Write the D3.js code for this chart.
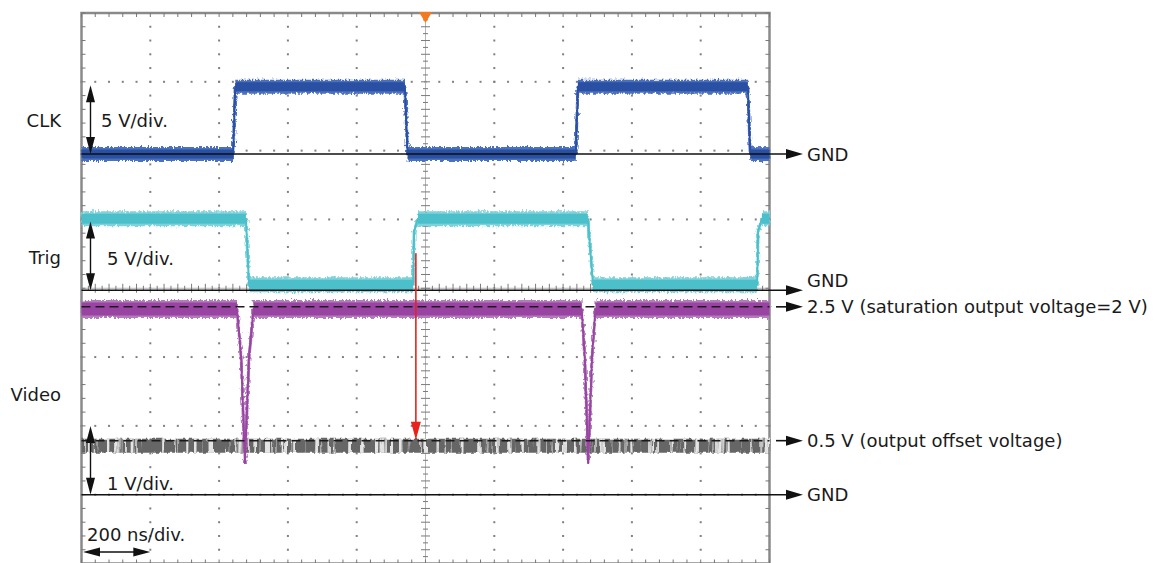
<!DOCTYPE html>
<html>
<head>
<meta charset="utf-8">
<script src="https://cdn.jsdelivr.net/npm/d3@7"></script>
<style>
  body { margin: 0; background: #fff; }
  svg { display: block; font-family: 'DejaVu Sans', sans-serif; }
</style>
</head>
<body>
<svg id="scope" width="1163" height="563"></svg>
<script>
// horizontal: ns, 200 ns/div ; vertical: divisions counted from the bottom
const timeDivs = [0, 200, 400, 600, 800, 1000, 1200, 1400, 1600, 1800, 2000]
const voltDivs = [0, 1, 2, 3, 4, 5, 6, 7, 8]

const channelNames = ['CLK', 'Trig', 'Video']
const channelScaleLabels = ['5 V/div.', '5 V/div.', '1 V/div.']
const channelVoltsPerDiv = [5, 5, 1]
const channelGndDiv = [5.95, 3.97, 1.0]
const channelLabelVolts = [2.45, 2.35, 1.45]

// CLK trace (V)
const clkTime = [0, 441, 447, 940, 948, 1437, 1443, 1937, 1944, 2000]
const clkVolts = [0, 0, 4.9, 4.9, 0, 0, 4.9, 4.9, 0, 0]

// Trig trace (V)
const trigTime = [0, 478, 487, 964, 967, 978, 1472, 1487, 1964, 1967, 1978, 2000]
const trigVolts = [5.2, 5.2, 0.4, 0.4, 4.3, 5.2, 5.2, 0.4, 0.4, 4.3, 5.2, 5.2]

// Video output (V)
const videoTime = [0, 452, 464, 475, 487, 500, 1454, 1463, 1473, 1484, 1494, 2000]
const videoVolts = [2.7, 2.7, 2.0, 0.46, 2.0, 2.7, 2.7, 2.0, 0.46, 2.0, 2.7, 2.7]

// Video output with no light (offset level, V)
const offsetTime = [0, 2000]
const offsetVolts = [0.71, 0.71]

const refVolts = [2.73, 0.785]
const refLabels = ['2.5 V (saturation output voltage=2 V)', '0.5 V (output offset voltage)']
const gndLabel = 'GND'
const timeScaleLabel = '200 ns/div.'
const triggerTime = 1000
const cursorTime = 972
const cursorFromVolts = 2.7 // on Trig
const cursorToVolts = 0.8 // on Video

const svg = d3.select('#scope')
const x = d3.scaleLinear().domain([0, 2000]).range([81.5, 769.5])
const y = d3.scaleLinear().domain([0, 8]).range([563.5, 13])
const chY = (i, v) => y(channelGndDiv[i] + v / channelVoltsPerDiv[i])
const minorT = d3.range(0, 2000.1, 40)
const minorV = d3.range(0, 8.01, 0.2)

// filters for the noisy traces
const defs = svg.append('defs')
const region = (f) => f.attr('filterUnits', 'userSpaceOnUse').attr('x', 0).attr('y', 0).attr('width', 1163).attr('height', 563)

const fuzz = region(defs.append('filter').attr('id', 'fuzz'))
fuzz.append('feTurbulence').attr('type', 'fractalNoise').attr('baseFrequency', '0.55 0.25')
  .attr('numOctaves', 2).attr('seed', 4).attr('result', 'n')
fuzz.append('feDisplacementMap').attr('in', 'SourceGraphic').attr('in2', 'n').attr('scale', 6)
  .attr('xChannelSelector', 'R').attr('yChannelSelector', 'G')

const streak = region(defs.append('filter').attr('id', 'streak'))
streak.append('feTurbulence').attr('type', 'fractalNoise').attr('baseFrequency', '0.35 0.01')
  .attr('numOctaves', 1).attr('seed', 9).attr('result', 'n')
streak.append('feColorMatrix').attr('in', 'n').attr('type', 'matrix')
  .attr('values', '0 0 0 0 0.78  0 0 0 0 0.78  0 0 0 0 0.78  8 0 0 0 -4.3').attr('result', 'light')
streak.append('feComposite').attr('in', 'light').attr('in2', 'SourceGraphic').attr('operator', 'in').attr('result', 'lightIn')
const merge = streak.append('feMerge').attr('result', 'm')
merge.append('feMergeNode').attr('in', 'SourceGraphic')
merge.append('feMergeNode').attr('in', 'lightIn')
streak.append('feTurbulence').attr('type', 'fractalNoise').attr('baseFrequency', '0.3 0.06')
  .attr('numOctaves', 1).attr('seed', 2).attr('result', 'n2')
streak.append('feDisplacementMap').attr('in', 'm').attr('in2', 'n2').attr('scale', 5)
  .attr('xChannelSelector', 'R').attr('yChannelSelector', 'G')

// graticule
const grid = svg.append('g')
const innerT = timeDivs.slice(1, -1).filter((t) => t !== 1000)
const innerV = voltDivs.slice(1, -1).filter((v) => v !== 4)

innerT.forEach((t) => {
  grid.selectAll(null).data(minorV).enter().append('rect')
    .attr('x', x(t) - 1).attr('y', (v) => y(v) - 1).attr('width', 2).attr('height', 2).attr('fill', '#808080')
})
innerV.forEach((v) => {
  grid.selectAll(null).data(minorT).enter().append('rect')
    .attr('x', (t) => x(t) - 1).attr('y', y(v) - 1).attr('width', 2).attr('height', 2).attr('fill', '#808080')
})

// center cross with ticks
grid.append('line').attr('x1', x(1000)).attr('x2', x(1000)).attr('y1', y(8)).attr('y2', y(0))
  .attr('stroke', '#b5b5b5').attr('stroke-width', 1)
grid.append('line').attr('x1', x(0)).attr('x2', x(2000)).attr('y1', y(4)).attr('y2', y(4))
  .attr('stroke', '#b5b5b5').attr('stroke-width', 1)
const fineV = d3.range(0, 8.01, 0.1)
const fineT = d3.range(0, 2000.1, 20)
grid.selectAll(null).data(fineV).enter().append('line')
  .attr('x1', (v, k) => x(1000) - (k % 2 ? 2.5 : 4.5)).attr('x2', (v, k) => x(1000) + (k % 2 ? 2.5 : 4.5))
  .attr('y1', (v) => y(v)).attr('y2', (v) => y(v)).attr('stroke', '#7a7a7a').attr('stroke-width', 1)
grid.selectAll(null).data(fineT).enter().append('line')
  .attr('y1', (t, k) => y(4) - (k % 2 ? 2.5 : 4.5)).attr('y2', (t, k) => y(4) + (k % 2 ? 2.5 : 4.5))
  .attr('x1', (t) => x(t)).attr('x2', (t) => x(t)).attr('stroke', '#7a7a7a').attr('stroke-width', 1)

// border with inward ticks
grid.append('rect').attr('x', x(0)).attr('y', y(8)).attr('width', x(2000) - x(0)).attr('height', y(0) - y(8))
  .attr('fill', 'none').attr('stroke', '#8a8a8a').attr('stroke-width', 2.5)
grid.selectAll(null).data(minorT).enter().append('line')
  .attr('x1', (t) => x(t)).attr('x2', (t) => x(t)).attr('y1', y(8)).attr('y2', y(8) + 4)
  .attr('stroke', '#777').attr('stroke-width', 1)
grid.selectAll(null).data(minorT).enter().append('line')
  .attr('x1', (t) => x(t)).attr('x2', (t) => x(t)).attr('y1', y(0)).attr('y2', y(0) - 4)
  .attr('stroke', '#777').attr('stroke-width', 1)
grid.selectAll(null).data(minorV).enter().append('line')
  .attr('x1', x(0)).attr('x2', x(0) + 4).attr('y1', (v) => y(v)).attr('y2', (v) => y(v))
  .attr('stroke', '#777').attr('stroke-width', 1)
grid.selectAll(null).data(minorV).enter().append('line')
  .attr('x1', x(2000)).attr('x2', x(2000) - 4).attr('y1', (v) => y(v)).attr('y2', (v) => y(v))
  .attr('stroke', '#777').attr('stroke-width', 1)

// split a trace into flat (noisy band) parts and transitions
const segments = (ts, vs) => {
  const flats = []
  const edges = []
  for (let k = 1; k < ts.length; k++) {
    const seg = [[ts[k - 1], vs[k - 1]], [ts[k], vs[k]]]
    if (vs[k] === vs[k - 1]) flats.push(seg)
    else edges.push(seg)
  }
  return { flats, edges }
}

const drawTrace = (ts, vs, ch, color, halo, band) => {
  const { flats, edges } = segments(ts, vs)
  const line = d3.line().x((d) => x(d[0])).y((d) => chY(ch, d[1]))
  // fuzzy outer band
  const g = svg.append('g').attr('filter', 'url(#fuzz)')
  g.selectAll(null).data(flats).enter().append('path')
    .attr('d', line).attr('fill', 'none').attr('stroke', halo).attr('stroke-width', band)
  g.selectAll(null).data(edges).enter().append('path')
    .attr('d', line).attr('fill', 'none').attr('stroke', halo).attr('stroke-width', 3)
  // solid core
  const c = svg.append('g')
  c.selectAll(null).data(flats).enter().append('path')
    .attr('d', line).attr('fill', 'none').attr('stroke', color).attr('stroke-width', band - 5)
  c.selectAll(null).data(edges).enter().append('path')
    .attr('d', line).attr('fill', 'none').attr('stroke', color).attr('stroke-width', 2)
    .attr('stroke-linecap', 'round')
}

// offset level trace (grey, streaky)
svg.append('path')
  .datum(offsetTime.map((t, k) => [t, offsetVolts[k]]))
  .attr('d', d3.line().x((d) => x(d[0])).y((d) => chY(2, d[1])))
  .attr('fill', 'none').attr('stroke', '#666').attr('stroke-width', 14)
  .attr('filter', 'url(#streak)')

drawTrace(clkTime, clkVolts, 0, '#2a50a4', '#4c6fbd', 14)
drawTrace(trigTime, trigVolts, 1, '#4bc0cb', '#7fd2da', 15)
drawTrace(videoTime, videoVolts, 2, '#9944a2', '#b27bbb', 18)

// arrow helpers
const head = (g, tx, ty, dir, len = 17, hw = 5) => {
  const [dx, dy] = { r: [-1, 0], l: [1, 0], u: [0, 1], d: [0, -1] }[dir]
  const bx = tx + dx * len
  const by = ty + dy * len
  g.append('path')
    .attr('d', `M${tx},${ty}L${bx - dy * hw},${by - dx * hw}L${bx + dy * hw},${by + dx * hw}Z`)
    .attr('fill', '#111')
}

const ann = svg.append('g')
const rightX = 803
const rightLabels = []

// ground lines
channelNames.forEach((name, i) => {
  const gy = chY(i, 0)
  ann.append('line').attr('x1', x(0)).attr('x2', rightX - 12).attr('y1', gy).attr('y2', gy)
    .attr('stroke', '#111').attr('stroke-width', 1.6)
  head(ann, rightX, gy, 'r')
  rightLabels.push({ y: gy, text: gndLabel })
})

// reference levels on video
refVolts.forEach((v, k) => {
  const ry = chY(2, v)
  ann.append('line').attr('x1', x(0)).attr('x2', x(2000)).attr('y1', ry).attr('y2', ry)
    .attr('stroke', '#1a1a1a').attr('stroke-width', 1.5).attr('stroke-dasharray', '9,5')
  ann.append('line').attr('x1', 776).attr('x2', rightX - 12).attr('y1', ry).attr('y2', ry)
    .attr('stroke', '#111').attr('stroke-width', 1.6)
  head(ann, rightX, ry, 'r')
  rightLabels.push({ y: ry, text: refLabels[k] })
})

// keep right-hand labels apart
rightLabels.sort((a, b) => a.y - b.y)
rightLabels.forEach((d) => (d.ly = d.y))
for (let k = rightLabels.length - 2; k >= 0; k--) {
  const gap = rightLabels[k + 1].ly - rightLabels[k].ly
  if (gap < 26) rightLabels[k].ly = rightLabels[k + 1].ly - 26
}
ann.selectAll(null).data(rightLabels).enter().append('text')
  .attr('x', 807).attr('y', (d) => d.ly).attr('dy', '0.36em')
  .attr('font-size', '18px').attr('fill', '#1a1a1a').text((d) => d.text)

// channel names
ann.selectAll(null).data(channelNames).enter().append('text')
  .attr('x', 61).attr('y', (d, i) => chY(i, channelLabelVolts[i])).attr('dy', '0.36em')
  .attr('text-anchor', 'end').attr('font-size', '18px').attr('fill', '#1a1a1a').text((d) => d)

// volts/div arrows and labels
const scaleLabelPos = [[101, -27], [107, -25], [107, -5]]
channelNames.forEach((name, i) => {
  const y0 = chY(i, 0)
  const y1 = chY(i, channelVoltsPerDiv[i])
  ann.append('line').attr('x1', 90.5).attr('x2', 90.5).attr('y1', y1 + 10).attr('y2', y0 - 10)
    .attr('stroke', '#111').attr('stroke-width', 1.4)
  head(ann, 90.5, y1, 'u', 17, 4.5)
  head(ann, 90.5, y0, 'd', 17, 4.5)
  const [lx, off] = scaleLabelPos[i]
  if (i === 2) {
    ann.append('rect').attr('x', lx - 5).attr('y', y0 + off - 17).attr('width', 78).attr('height', 20)
      .attr('fill', '#fff')
  }
  ann.append('text').attr('x', lx).attr('y', y0 + off).attr('font-size', '18px').attr('fill', '#1a1a1a')
    .text(channelScaleLabels[i])
})

// time/div
ann.append('text').attr('x', 87).attr('y', 541).attr('font-size', '18px').attr('fill', '#1a1a1a')
  .text(timeScaleLabel)
ann.append('line').attr('x1', x(0) + 10).attr('x2', x(200) - 10).attr('y1', 552).attr('y2', 552)
  .attr('stroke', '#111').attr('stroke-width', 1.4)
head(ann, x(0) + 1.5, 552, 'l', 17, 4.5)
head(ann, x(200), 552, 'r', 17, 4.5)

// trigger position marker
const tx = x(triggerTime)
ann.append('path').attr('d', `M${tx - 6.5},${y(8) - 1}L${tx + 6.5},${y(8) - 1}L${tx},${y(8) + 10}Z`)
  .attr('fill', '#f47a20')

// timing cursor (red)
const cx = x(cursorTime)
const cy1 = chY(2, cursorToVolts)
ann.append('line').attr('x1', cx).attr('x2', cx).attr('y1', chY(1, cursorFromVolts)).attr('y2', cy1 - 12)
  .attr('stroke', '#e8231c').attr('stroke-width', 1.6)
ann.append('path').attr('d', `M${cx},${cy1}L${cx - 5},${cy1 - 18}L${cx + 5},${cy1 - 18}Z`)
  .attr('fill', '#e8231c')
</script>
</body>
</html>
